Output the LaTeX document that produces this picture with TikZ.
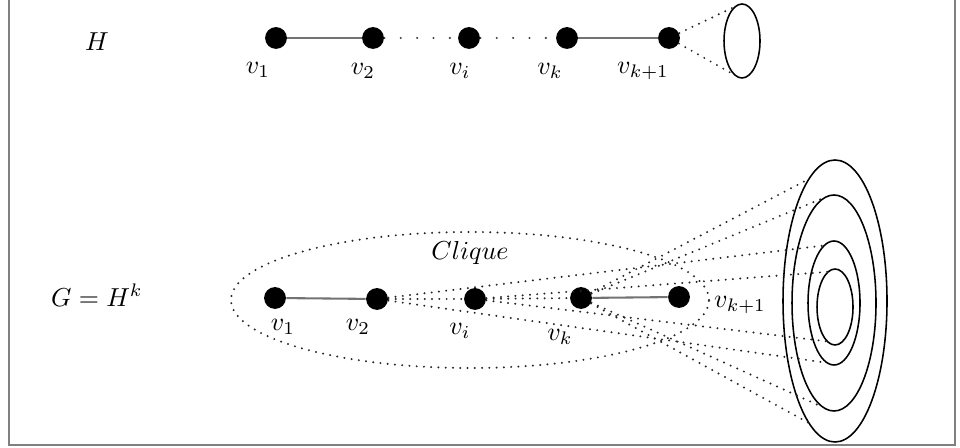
\documentclass[tikz,border=0pt]{standalone}
\usetikzlibrary{calc}
\begin{document}
\begin{tikzpicture}[x=0.385pt,y=0.385pt,
  vtx/.style={circle,fill=black,inner sep=0pt,minimum size=8.4pt},
  lbl/.style={inner sep=0pt},
  solidedge/.style={draw=black!55,line width=0.8pt},
  sparsedots/.style={draw=black!75,line width=0.9pt,line cap=round,dash pattern=on 0pt off 6.3pt},
  fandots/.style={draw=black!85,line width=0.85pt,line cap=round,dash pattern=on 0pt off 2.8pt},
  ring/.style={draw=black,line width=0.6pt},
  frame/.style={draw=black!50,line width=0.7pt}]
\useasboundingbox (0,0) rectangle (960,448);
% frame (open at the top)
\draw[frame] (9,460) -- (9,3) -- (955,3) -- (955,460);

% ---------- H ----------
\node[lbl] (hlab) at (97,406) {$H$};
\node[vtx] (a1) at (276,410) {};
\node[vtx] (a2) at (373,410) {};
\node[vtx] (ai) at (469,410) {};
\node[vtx] (ak) at (567,410) {};
\node[vtx] (ak1) at (669,410) {};
\node[lbl] (la1) at (258,378) {$v_1$};
\node[lbl] (la2) at (363,377) {$v_2$};
\node[lbl] (lai) at (460,377) {$v_i$};
\node[lbl] (lak) at (550,377) {$v_k$};
\node[lbl] (lak1) at (643,377) {$v_{k+1}$};
\draw[solidedge] (a1) -- (a2);
\draw[solidedge] (ak) -- (ak1);
\draw[sparsedots] (a2) -- (ai);
\draw[sparsedots] (ai) -- (ak);
\coordinate (te) at (742,407);
\draw[ring] (te) ellipse [x radius=18, y radius=37];
\coordinate (tet) at ($(te)+(110:18 and 37)$);
\coordinate (teb) at ($(te)+(250:18 and 37)$);
\draw[fandots] (ak1) -- (tet);
\draw[fandots] (ak1) -- (teb);

% ---------- G = H^k ----------
\node[lbl] (glab) at (97,153) {$G=H^k$};
\node[vtx] (b1) at (275,150) {};
\node[vtx] (b2) at (377,149) {};
\node[vtx] (bi) at (475,149) {};
\node[vtx] (bk) at (581,150) {};
\node[vtx] (bk1) at (679,151) {};
\node[lbl] (lb1) at (283,121) {$v_1$};
\node[lbl] (lb2) at (358,121) {$v_2$};
\node[lbl] (lbi) at (460,117) {$v_i$};
\node[lbl] (lbk) at (560,111) {$v_k$};
\node[lbl] (lbk1) at (740,143) {$v_{k+1}$};
\node[lbl] (clq) at (470,195) {$Clique$};
\draw[fandots] (470,148) ellipse [x radius=239, y radius=68];
\draw[solidedge] (b1) -- (b2);
\draw[solidedge] (bk) -- (bk1);
\draw[fandots] (b2) -- (bi);
\draw[fandots] (bi) -- (bk);

% concentric rings
\coordinate (c1) at (835,147);
\coordinate (c2) at (834,145);
\coordinate (c3) at (834,145);
\coordinate (c4) at (835,141);
\draw[ring] (c1) ellipse [x radius=52, y radius=141];
\draw[ring] (c2) ellipse [x radius=42, y radius=108];
\draw[ring] (c3) ellipse [x radius=26, y radius=62];
\draw[ring] (c4) ellipse [x radius=18, y radius=38];
\coordinate (e1t) at ($(c1)+(120:52 and 141)$);
\coordinate (e1b) at ($(c1)+(240:52 and 141)$);
\coordinate (e2t) at ($(c2)+(100:42 and 108)$);
\coordinate (e2b) at ($(c2)+(255:42 and 108)$);
\coordinate (e3t) at ($(c3)+(112:26 and 62)$);
\coordinate (e3b) at ($(c3)+(255:26 and 62)$);
\coordinate (e4t) at ($(c4)+(112:18 and 38)$);
\coordinate (e4b) at ($(c4)+(245:18 and 38)$);
\draw[fandots] (bk) -- (e1t);
\draw[fandots] (bk) -- (e1b);
\draw[fandots] (bk) -- (e2t);
\draw[fandots] (bk) -- (e2b);
\draw[fandots] (b2) -- (e3t);
\draw[fandots] (b2) -- (e3b);
\draw[fandots] (bi) -- (e4t);
\draw[fandots] (bi) -- (e4b);
\end{tikzpicture}
\end{document}
